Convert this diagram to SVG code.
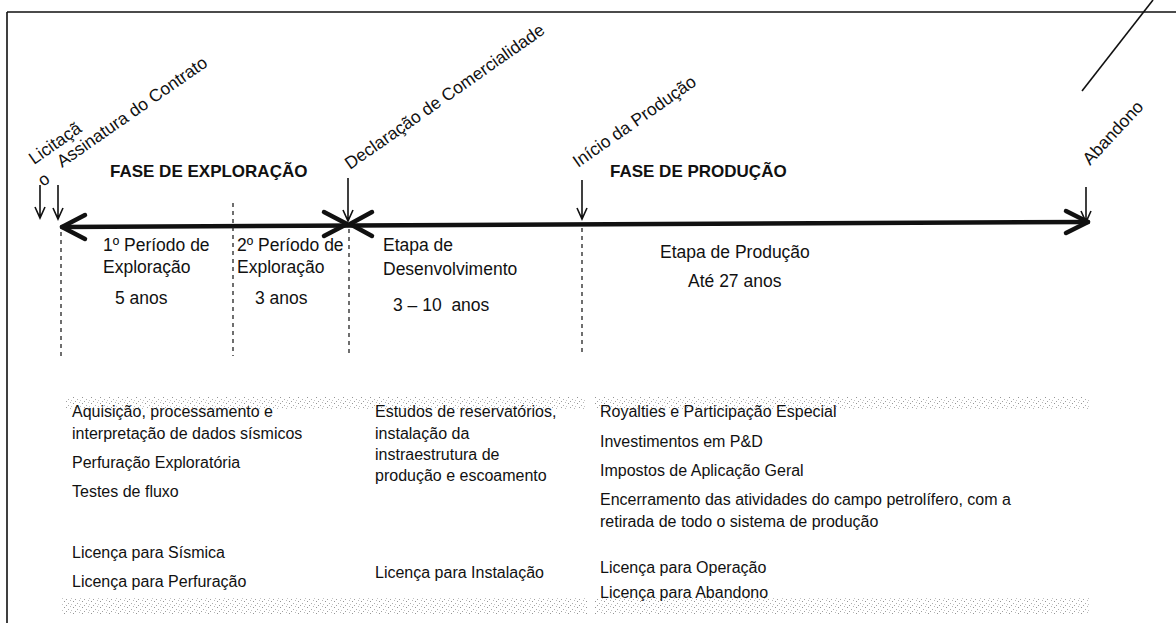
<svg xmlns="http://www.w3.org/2000/svg" width="1176" height="623" viewBox="0 0 1176 623">
<style>
text{font-family:"Liberation Sans",Arial,sans-serif;fill:#111}
.rot{font-size:17.5px}
.phase{font-size:17px;font-weight:bold}
.lab{font-size:17.5px}
.bt{font-size:16px}
.thin{stroke:#111;stroke-width:1.6;fill:none}
.thick{stroke:#111;stroke-width:4.5;fill:none;stroke-linecap:round;stroke-linejoin:round}
.dash{stroke:#222;stroke-width:1.3;stroke-dasharray:4 4;fill:none}
</style>
<defs>
<pattern id="noise" width="9" height="6" patternUnits="userSpaceOnUse">
<rect x="1" y="1" width="1" height="1" fill="#666"/>
<rect x="5" y="3" width="1" height="1" fill="#888"/>
<rect x="7" y="0" width="1" height="1" fill="#999"/>
<rect x="3" y="5" width="1" height="1" fill="#777"/>
<rect x="8" y="4" width="1" height="1" fill="#aaa"/>
</pattern>
</defs>
<rect width="1176" height="623" fill="#fff"/>
<g id="frame">
<path d="M7,12 H1176 M7,12 V623" class="thin" stroke-width="1.4"/>
<path d="M1082,91 L1153,0" class="thin" stroke-width="1.2"/>
</g>
<g id="noise-bands" opacity="0.7">
<rect x="66" y="397" width="520" height="12" fill="url(#noise)"/>
<rect x="595" y="397" width="495" height="12" fill="url(#noise)"/>
<rect x="62" y="598" width="525" height="17" fill="url(#noise)"/>
<rect x="595" y="598" width="495" height="17" fill="url(#noise)"/>
</g>
<g id="connectors">
<path d="M62,227 L1088,222" class="thick"/>
<path d="M85,215 L62,227 L85,239" class="thick"/>
<path d="M324,212 L347,224 L324,236" class="thick"/>
<path d="M372,212 L350,224 L372,236" class="thick"/>
<path d="M1066,211 L1088,222 L1066,233" class="thick"/>
<path d="M40,185 V218 M35,207 L40,218 L45,207" class="thin"/>
<path d="M58,185 V219 M53,208 L58,219 L63,208" class="thin"/>
<path d="M348,178 V221 M343,210 L348,221 L353,210" class="thin"/>
<path d="M582,180 V219 M577,208 L582,219 L587,208" class="thin"/>
<path d="M1086,187 V222 M1081,211 L1086,222 L1091,211" class="thin"/>
<line x1="61" y1="232" x2="61" y2="356" class="dash"/>
<line x1="233" y1="203" x2="233" y2="356" class="dash"/>
<line x1="349" y1="229" x2="349" y2="356" class="dash"/>
<line x1="582" y1="228" x2="582" y2="352" class="dash"/>
</g>
<g id="milestones">
<text class="rot" transform="translate(34,165) rotate(-35)">Licitaçã</text>
<text class="rot" transform="translate(43,187) rotate(-35)">o</text>
<text class="rot" transform="translate(62,168) rotate(-35)">Assinatura do Contrato</text>
<text class="rot" transform="translate(350,170) rotate(-35)">Declaração de Comercialidade</text>
<text class="rot" transform="translate(578,168) rotate(-35)">Início da Produção</text>
<text class="rot" transform="translate(1090,166) rotate(-47)">Abandono</text>
</g>
<g id="phases">
<text class="phase" x="110" y="177">FASE DE EXPLORAÇÃO</text>
<text class="phase" x="610" y="177">FASE DE PRODUÇÃO</text>
</g>
<g id="periodo1">
<text class="lab" x="103" y="251">1º Período de</text>
<text class="lab" x="103" y="273">Exploração</text>
<text class="lab" x="115" y="304">5 anos</text>
</g>
<g id="periodo2">
<text class="lab" x="237" y="251">2º Período de</text>
<text class="lab" x="237" y="273">Exploração</text>
<text class="lab" x="255" y="304">3 anos</text>
</g>
<g id="desenvolvimento">
<text class="lab" x="383" y="251">Etapa de</text>
<text class="lab" x="383" y="275">Desenvolvimento</text>
<text class="lab" x="393" y="311">3 – 10&#160; anos</text>
</g>
<g id="producao">
<text class="lab" x="660" y="258">Etapa de Produção</text>
<text class="lab" x="688" y="287">Até 27 anos</text>
</g>
<g id="atividades-exploracao">
<text class="bt" x="72" y="417">Aquisição, processamento e</text>
<text class="bt" x="72" y="439">interpretação de dados sísmicos</text>
<text class="bt" x="72" y="468">Perfuração Exploratória</text>
<text class="bt" x="72" y="497">Testes de fluxo</text>
<text class="bt" x="72" y="558">Licença para Sísmica</text>
<text class="bt" x="72" y="587">Licença para Perfuração</text>
</g>
<g id="atividades-desenvolvimento">
<text class="bt" x="375" y="417">Estudos de reservatórios,</text>
<text class="bt" x="375" y="439">instalação da</text>
<text class="bt" x="375" y="460">instraestrutura de</text>
<text class="bt" x="375" y="481">produção e escoamento</text>
<text class="bt" x="375" y="578">Licença para Instalação</text>
</g>
<g id="atividades-producao">
<text class="bt" x="600" y="417">Royalties e Participação Especial</text>
<text class="bt" x="600" y="447">Investimentos em P&amp;D</text>
<text class="bt" x="600" y="476">Impostos de Aplicação Geral</text>
<text class="bt" x="600" y="505">Encerramento das atividades do campo petrolífero, com a</text>
<text class="bt" x="600" y="527">retirada de todo o sistema de produção</text>
<text class="bt" x="600" y="573">Licença para Operação</text>
<text class="bt" x="600" y="598">Licença para Abandono</text>
</g>
</svg>
